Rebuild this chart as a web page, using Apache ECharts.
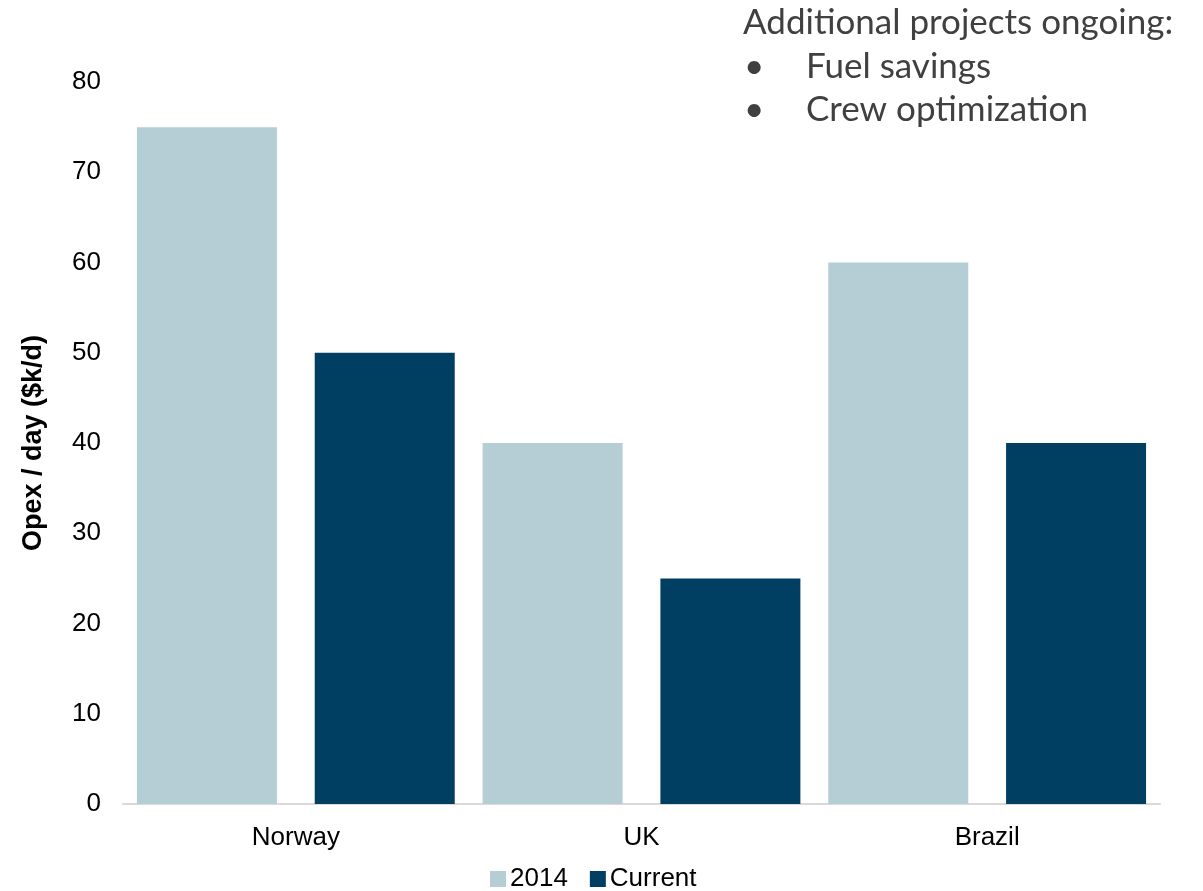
<!DOCTYPE html>
<html>
<head>
<meta charset="utf-8">
<script src="https://cdn.jsdelivr.net/npm/echarts@6/dist/echarts.min.js"></script>
<style>html,body{margin:0;padding:0;background:#fff;}#c{width:1203px;height:891px;}</style>
</head>
<body>
<div id="c"></div>
<script>
var categories = ['Norway', 'UK', 'Brazil'];
var values2014 = [75, 40, 60];
var valuesCurrent = [50, 25, 40];
var seriesNames = ['2014', 'Current'];
var axisName = 'Opex / day ($k/d)';
var noteTitle = 'Additional projects ongoing:';
var noteItems = ['Fuel savings', 'Crew optimization'];

var chart = echarts.init(document.getElementById('c'));
var font = '"Liberation Sans", Arial, sans-serif';
var noteFont = 'Lato, "Open Sans", sans-serif';
var noteColor = '#404040';
var graphics = [{
  type: 'text', left: 743, top: 5,
  style: { text: noteTitle, font: '35px ' + noteFont, fill: noteColor }
}];
noteItems.forEach(function (t, i) {
  graphics.push({ type: 'text', left: 744, top: 49 + i * 43.5,
    style: { text: '\u2022', font: '35px ' + noteFont, fill: noteColor } });
  graphics.push({ type: 'text', left: 806, top: 49 + i * 43.5,
    style: { text: t, font: '35px ' + noteFont, fill: noteColor } });
});
chart.setOption({
  animation: false,
  textStyle: { fontFamily: font },
  grid: { left: 123, right: 43, top: 82, bottom: 87 },
  legend: {
    data: seriesNames, top: 866, left: 490,
    itemWidth: 16, itemHeight: 16, itemGap: 22, icon: 'rect', padding: 0,
    textStyle: { fontSize: 26, color: '#000', fontFamily: font, padding: [0, 0, 0, -1] }
  },
  xAxis: {
    type: 'category', data: categories,
    axisLine: { lineStyle: { color: '#d9d9d9', width: 2 } },
    axisTick: { show: false },
    axisLabel: { fontSize: 26, color: '#000', margin: 21 }
  },
  yAxis: {
    type: 'value', min: 0, max: 80, interval: 10,
    name: axisName, nameLocation: 'middle', nameGap: 76, nameRotate: 90,
    nameTextStyle: { fontSize: 27, fontWeight: 'bold', color: '#000' },
    axisLine: { show: false }, axisTick: { show: false },
    splitLine: { show: false },
    axisLabel: { fontSize: 26, color: '#000', margin: 22 }
  },
  series: [
    { name: seriesNames[0], type: 'bar', data: values2014, barWidth: 140, barGap: '27%',
      itemStyle: { color: '#b5cdd4' } },
    { name: seriesNames[1], type: 'bar', data: valuesCurrent, barWidth: 140,
      itemStyle: { color: '#003f61' } }
  ],
  graphic: graphics
});
</script>
</body>
</html>
